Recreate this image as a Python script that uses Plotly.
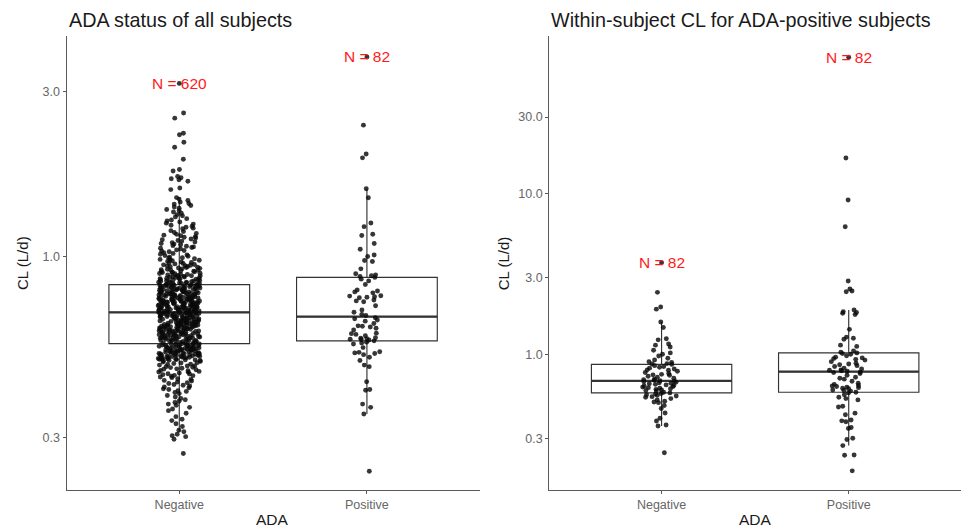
import numpy as np
import plotly.graph_objects as go

categories = ["Negative", "Positive"]
ticks_left = [0.3, 1.0, 3.0]
ticks_right = [0.3, 1.0, 3.0, 10.0, 30.0]
titles = ["ADA status of all subjects", "Within-subject CL for ADA-positive subjects"]

# ---- panel 1: all subjects, ADA negative (N = 620)
all_neg_low = [
    0.269, 0.296, 0.301, 0.303, 0.306, 0.311, 0.314, 0.322, 0.328, 0.335, 0.338, 0.344, 0.352,
    0.358, 0.362, 0.366, 0.371, 0.374, 0.378, 0.381, 0.385, 0.388, 0.392, 0.396,
    0.401, 0.404, 0.407, 0.409, 0.412, 0.414, 0.417, 0.419, 0.422, 0.424,
    0.426, 0.429, 0.431, 0.433, 0.436, 0.438, 0.441, 0.443, 0.446, 0.448,
    0.450, 0.452, 0.453, 0.455, 0.457, 0.458, 0.460, 0.462, 0.463, 0.465,
    0.467, 0.468, 0.470, 0.472, 0.473, 0.475, 0.477, 0.478, 0.480, 0.482,
    0.483, 0.485, 0.487, 0.488, 0.490, 0.492, 0.493, 0.495, 0.497, 0.498,
    0.500, 0.501, 0.503, 0.504, 0.505, 0.507, 0.508, 0.509, 0.511, 0.512,
    0.513, 0.514, 0.516, 0.517, 0.518, 0.519, 0.521, 0.522, 0.523, 0.524,
    0.526, 0.527, 0.528, 0.529, 0.531, 0.532, 0.533, 0.534, 0.535, 0.537,
    0.538, 0.539, 0.540, 0.541, 0.542, 0.543, 0.545, 0.546, 0.547, 0.548,
    0.549, 0.550, 0.551, 0.552, 0.553, 0.554, 0.555, 0.556, 0.557, 0.558,
    0.502, 0.506, 0.510, 0.515, 0.520, 0.525, 0.530, 0.536, 0.544, 0.559,
    0.5015, 0.5065, 0.5125, 0.5175, 0.5225, 0.5285, 0.5335, 0.5385, 0.5435, 0.5485,
    0.5535, 0.5565, 0.5045, 0.5095, 0.5145, 0.5195, 0.5245, 0.5315, 0.5365, 0.5415,
    0.5515,
]
all_neg_mid_low = [
    0.560, 0.561, 0.562, 0.563, 0.564, 0.565, 0.566, 0.567, 0.568, 0.569,
    0.570, 0.571, 0.5715, 0.572, 0.573, 0.575, 0.576, 0.577, 0.578, 0.579, 0.5795,
    0.580, 0.581, 0.582, 0.583, 0.584, 0.585, 0.586, 0.587, 0.588, 0.589, 0.5825, 0.5875,
    0.590, 0.591, 0.592, 0.593, 0.594, 0.595, 0.596, 0.597, 0.598, 0.599, 0.5935, 0.5965,
    0.600, 0.601, 0.602, 0.603, 0.604, 0.605, 0.606, 0.607, 0.608, 0.609, 0.6025, 0.6085,
    0.610, 0.611, 0.612, 0.613, 0.614, 0.615, 0.616, 0.617, 0.618, 0.619, 0.6135, 0.6175,
    0.620, 0.621, 0.622, 0.623, 0.624, 0.625, 0.626, 0.627, 0.628, 0.629, 0.6245, 0.6265,
    0.630, 0.631, 0.632, 0.633, 0.634, 0.635, 0.636, 0.637, 0.638, 0.639, 0.6335, 0.6375,
    0.640, 0.641, 0.642, 0.643, 0.644, 0.645, 0.646, 0.647, 0.648, 0.649, 0.6425, 0.6465,
    0.650, 0.651, 0.652, 0.653, 0.654, 0.655, 0.656, 0.657, 0.658, 0.659, 0.6545, 0.6575,
    0.660, 0.661, 0.662, 0.663, 0.664, 0.665, 0.666, 0.667, 0.668, 0.669, 0.6635, 0.6685,
    0.670, 0.671, 0.672, 0.673, 0.674, 0.675, 0.676, 0.677, 0.678, 0.679, 0.6725, 0.6765,
    0.680, 0.681, 0.682, 0.683, 0.684, 0.685, 0.686, 0.687, 0.688, 0.689, 0.6845, 0.6865,
    0.6875, 0.6885,
]
all_neg_mid_high = [
    0.690, 0.691, 0.692, 0.693, 0.694, 0.695, 0.696, 0.697, 0.698, 0.699, 0.6935, 0.6975,
    0.700, 0.701, 0.702, 0.703, 0.704, 0.705, 0.706, 0.707, 0.708, 0.709, 0.7025, 0.7065,
    0.710, 0.711, 0.712, 0.713, 0.714, 0.715, 0.716, 0.717, 0.718, 0.719, 0.7135, 0.7175,
    0.720, 0.721, 0.722, 0.723, 0.724, 0.725, 0.726, 0.727, 0.728, 0.729, 0.7225, 0.7265,
    0.730, 0.731, 0.732, 0.733, 0.734, 0.735, 0.736, 0.737, 0.738, 0.739, 0.7345, 0.7375,
    0.740, 0.741, 0.742, 0.743, 0.744, 0.745, 0.746, 0.747, 0.748, 0.749, 0.7435, 0.7465,
    0.750, 0.751, 0.752, 0.753, 0.754, 0.755, 0.756, 0.757, 0.758, 0.759, 0.7525, 0.7575,
    0.760, 0.761, 0.762, 0.763, 0.764, 0.765, 0.766, 0.767, 0.768, 0.769,
    0.770, 0.771, 0.772, 0.773, 0.774, 0.775, 0.776, 0.777, 0.778, 0.779,
    0.780, 0.781, 0.782, 0.783, 0.784, 0.785, 0.786, 0.787, 0.788, 0.789,
    0.790, 0.791, 0.792, 0.793, 0.794, 0.795, 0.796, 0.797, 0.798, 0.799,
    0.800, 0.801, 0.802, 0.803, 0.804, 0.805, 0.806, 0.807, 0.808, 0.809,
    0.810, 0.811, 0.812, 0.813, 0.814, 0.815, 0.816, 0.817, 0.818, 0.819,
    0.820, 0.821, 0.822, 0.823, 0.824, 0.825, 0.826, 0.827, 0.828, 0.829,
    0.8285,
]
all_neg_high = [
    0.830, 0.831, 0.833, 0.835, 0.836, 0.838, 0.839,
    0.840, 0.842, 0.843, 0.845, 0.846, 0.848, 0.849,
    0.851, 0.852, 0.854, 0.856, 0.857, 0.859,
    0.860, 0.862, 0.864, 0.865, 0.867, 0.869,
    0.871, 0.872, 0.874, 0.876, 0.877, 0.879,
    0.880, 0.882, 0.885, 0.887, 0.889,
    0.891, 0.893, 0.895, 0.897, 0.899,
    0.901, 0.903, 0.905, 0.907, 0.909,
    0.912, 0.914, 0.916, 0.918,
    0.921, 0.924, 0.926, 0.929,
    0.931, 0.934, 0.936, 0.938,
    0.941, 0.943, 0.946, 0.948,
    0.952, 0.955, 0.958,
    0.961, 0.964, 0.968,
    0.972, 0.975, 0.978,
    0.981, 0.985, 0.988,
    0.992, 0.996,
    1.002, 1.006, 1.011, 1.015, 1.021, 1.026, 1.032, 1.036, 1.041, 1.045,
    1.052, 1.057, 1.062, 1.066, 1.071, 1.075, 1.081, 1.086, 1.091, 1.096,
    1.102, 1.108, 1.113, 1.118, 1.124, 1.131, 1.137, 1.142, 1.148, 1.153,
    1.159, 1.166, 1.174, 1.181, 1.188,
    1.203, 1.208, 1.215, 1.224, 1.232, 1.241, 1.249, 1.258, 1.267, 1.276, 1.287,
    1.302, 1.311, 1.322, 1.334, 1.345, 1.356, 1.368, 1.379, 1.391,
    1.405, 1.418, 1.424, 1.437, 1.452, 1.466, 1.481,
    1.562, 1.578, 1.652, 1.668, 1.679, 1.691, 1.704, 1.768, 1.785, 1.912,
    2.071, 2.142, 2.251, 2.273, 2.514, 2.603,
]
all_neg = all_neg_low + all_neg_mid_low + all_neg_mid_high + all_neg_high

# ---- panel 1: all subjects, ADA positive (N = 82)
all_pos = [
    2.40, 1.98, 1.93, 1.57, 1.48, 1.25, 1.22, 1.16, 1.15, 1.09, 1.05, 1.01, 1.00,
    0.974, 0.967, 0.921, 0.891, 0.885, 0.88, 0.875, 0.87, 0.86, 0.85, 0.83,
    0.80, 0.795, 0.79, 0.785, 0.77, 0.768, 0.765, 0.762, 0.76, 0.748, 0.744, 0.74,
    0.72, 0.70, 0.69, 0.68, 0.675, 0.665, 0.66, 0.655, 0.65, 0.64, 0.63, 0.628,
    0.625, 0.62, 0.613, 0.60, 0.598, 0.595, 0.59, 0.582, 0.58, 0.578, 0.576, 0.575,
    0.573, 0.57, 0.565, 0.562, 0.558, 0.545, 0.53, 0.528, 0.526, 0.524, 0.52, 0.511,
    0.50, 0.485, 0.48, 0.434, 0.412, 0.41, 0.374, 0.366, 0.35, 0.239,
]

# ---- panel 2: within-subject CL of ADA-positive subjects (N = 82 each)
within_neg = [
    2.43, 1.97, 1.91, 1.59, 1.47, 1.25, 1.23, 1.16, 1.14, 1.11, 1.06, 1.02, 1.00,
    0.976, 0.944, 0.922, 0.90, 0.89, 0.875, 0.87,
    0.865, 0.85, 0.84, 0.83, 0.82, 0.81, 0.80, 0.795, 0.785, 0.77, 0.76, 0.75,
    0.745, 0.74, 0.73, 0.72, 0.71, 0.70, 0.695, 0.69, 0.685,
    0.68, 0.675, 0.67, 0.665, 0.66, 0.655, 0.65, 0.645, 0.64, 0.635, 0.63, 0.625,
    0.62, 0.615, 0.61, 0.605, 0.60, 0.595, 0.59, 0.58, 0.575,
    0.57, 0.565, 0.56, 0.555, 0.55, 0.545, 0.54, 0.53, 0.52, 0.51, 0.505, 0.50,
    0.48, 0.46, 0.431, 0.40, 0.384, 0.363, 0.358, 0.244,
]
within_pos = [
    16.7, 9.14, 6.23, 2.86, 2.55, 2.48, 2.45, 1.89, 1.84, 1.82, 1.80, 1.77, 1.43,
    1.28, 1.26, 1.24, 1.14, 1.12, 1.05, 1.03,
    1.02, 1.01, 1.00, 0.98, 0.96, 0.95, 0.94, 0.93, 0.92, 0.90, 0.88, 0.87, 0.86,
    0.85, 0.84, 0.82, 0.81, 0.80, 0.795, 0.79, 0.785,
    0.775, 0.77, 0.76, 0.74, 0.72, 0.71, 0.70, 0.68, 0.66, 0.65, 0.64, 0.635, 0.63,
    0.625, 0.62, 0.615, 0.61, 0.60, 0.595, 0.59, 0.58,
    0.575, 0.56, 0.54, 0.53, 0.52, 0.475, 0.47, 0.43, 0.42, 0.39, 0.385, 0.38,
    0.35, 0.345, 0.30, 0.295, 0.27, 0.236, 0.235, 0.188,
]

n_text_left = ["N = 620", "N = 82"]
n_pos_left = [3.17, 3.78]
n_text_right = ["N = 82", "N = 82"]
n_pos_right = [3.72, 70.7]

FONT = "Liberation Sans, Arial, Helvetica, sans-serif"
BOX_COL = "#333333"
AX_COL = "#5a5a5a"
PT_COL = "rgba(10,10,10,0.82)"
PT_SIZE = 4.9
W = 0.75

fig = go.Figure()

panels = [
    ("x", "y", [all_neg, all_pos], n_text_left, n_pos_left),
    ("x2", "y2", [within_neg, within_pos], n_text_right, n_pos_right),
]

for xa, ya, groups, ntext, npos in panels:
    # box bodies (whiskers to 1.5 IQR; outlier markers hidden, drawn by the points layer)
    for i, vals in enumerate(groups):
        lv = np.log10(np.array(vals))
        fig.add_trace(go.Box(
            y=lv, x0=i, width=W, boxpoints="outliers", whiskerwidth=0,
            marker=dict(size=0.1, color="rgba(0,0,0,0)", line=dict(width=0)),
            fillcolor="white", line=dict(color=BOX_COL, width=1.15),
            xaxis=xa, yaxis=ya, showlegend=False, hoverinfo="skip"))
    # thicker median lines
    for i, vals in enumerate(groups):
        m = float(np.median(np.log10(np.array(vals))))
        fig.add_trace(go.Box(
            x=[i], q1=[m], median=[m], q3=[m], lowerfence=[m], upperfence=[m],
            width=W, whiskerwidth=0, fillcolor="rgba(0,0,0,0)",
            line=dict(color=BOX_COL, width=2.3),
            xaxis=xa, yaxis=ya, showlegend=False, hoverinfo="skip"))
    # jittered points
    for i, vals in enumerate(groups):
        lv = np.log10(np.array(vals))
        fig.add_trace(go.Box(
            y=lv, x0=i, width=W, boxpoints="all", jitter=0.3, pointpos=0,
            whiskerwidth=0, fillcolor="rgba(0,0,0,0)",
            line=dict(color="rgba(0,0,0,0)", width=0.01),
            marker=dict(color=PT_COL, size=PT_SIZE),
            xaxis=xa, yaxis=ya, showlegend=False, hoverinfo="y"))
    # dot that sits on the label position in the original
    fig.add_trace(go.Scatter(
        x=list(range(len(npos))), y=np.log10(npos).tolist(), mode="markers",
        marker=dict(color=PT_COL, size=PT_SIZE),
        xaxis=xa, yaxis=ya, showlegend=False, hoverinfo="skip"))
    for i, (t, p) in enumerate(zip(ntext, npos)):
        fig.add_annotation(x=i, y=float(np.log10(p)), xref=xa, yref=ya, text=t,
                           showarrow=False, font=dict(family=FONT, size=15.5, color="#ff1a1a"),
                           xanchor="center", yanchor="middle")

W_PX, H_PX = 961, 531
ydom = [(H_PX - 490) / H_PX, (H_PX - 36) / H_PX]
xdom1 = [66.7 / W_PX, 479.5 / W_PX]
xdom2 = [549.3 / W_PX, 1.0]

axis_common = dict(showline=True, linecolor=AX_COL, linewidth=1.4, ticks="outside",
                   ticklen=3, tickwidth=1, tickcolor=AX_COL, showgrid=False, zeroline=False,
                   tickfont=dict(family=FONT, size=12.5, color="#666666"), fixedrange=True)

fig.update_layout(
    width=W_PX, height=H_PX, autosize=False,
    margin=dict(l=0, r=0, t=0, b=0, pad=0),
    paper_bgcolor="white", plot_bgcolor="white",
    boxmode="overlay",
    xaxis=dict(domain=xdom1, range=[-0.6, 1.6], tickvals=[0, 1], ticktext=categories,
               anchor="y", **axis_common),
    yaxis=dict(domain=ydom, range=[-0.6758, 0.6382], tickvals=np.log10(ticks_left).tolist(),
               ticktext=[f"{t:.1f}" for t in ticks_left], anchor="x", **axis_common),
    xaxis2=dict(domain=xdom2, range=[-0.6, 1.6], tickvals=[0, 1], ticktext=categories,
                anchor="y2", **axis_common),
    yaxis2=dict(domain=ydom, range=[-0.845, 1.982], tickvals=np.log10(ticks_right).tolist(),
                ticktext=[f"{t:.1f}" for t in ticks_right], anchor="x2", **axis_common),
)

def px(xp, yp):
    return xp / W_PX, (H_PX - yp) / H_PX

# panel titles
for t, xl in zip(titles, [66.7, 549.3]):
    x, y = px(xl, 19.5)
    fig.add_annotation(x=x, y=y, xref="paper", yref="paper", text=t, showarrow=False,
                       xanchor="left", yanchor="middle",
                       font=dict(family=FONT, size=19.8, color="#1a1a1a"))
# axis titles
for xc in [22, 503.3]:
    x, y = px(xc, 263)
    fig.add_annotation(x=x, y=y, xref="paper", yref="paper", text="CL (L/d)", showarrow=False,
                       textangle=-90, xanchor="center", yanchor="middle",
                       font=dict(family=FONT, size=15, color="#1a1a1a"))
for xc in [272, 755.5]:
    x, y = px(xc, 519)
    fig.add_annotation(x=x, y=y, xref="paper", yref="paper", text="ADA", showarrow=False,
                       xanchor="center", yanchor="middle",
                       font=dict(family=FONT, size=15.5, color="#1a1a1a"))

fig.write_html("out.html")
